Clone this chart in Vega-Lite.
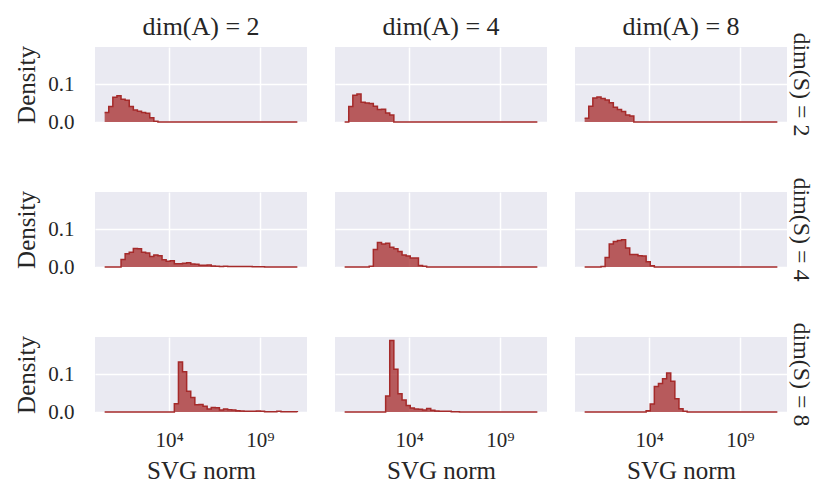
{
"$schema": "https://vega.github.io/schema/vega-lite/v6.json",
"padding": {"left": 14, "top": 14, "right": 2, "bottom": 2},
"background": "white",
"data": {"values": [
{"S":2,"A":2,"x":2.742,"d":0.0248},{"S":2,"A":2,"x":4.615,"d":0.0407},{"S":2,"A":2,"x":7.767,"d":0.0654},{"S":2,"A":2,"x":13.07,"d":0.069},{"S":2,"A":2,"x":22.0,"d":0.060},{"S":2,"A":2,"x":37.03,"d":0.0575},{"S":2,"A":2,"x":62.32,"d":0.0407},{"S":2,"A":2,"x":104.9,"d":0.0318},{"S":2,"A":2,"x":176.5,"d":0.0283},{"S":2,"A":2,"x":297.1,"d":0.0248},{"S":2,"A":2,"x":500,"d":0.023},{"S":2,"A":2,"x":841.6,"d":0.0115},{"S":2,"A":2,"x":1416,"d":0.002},{"S":2,"A":2,"x":2384,"d":0},{"S":2,"A":2,"x":116060000000,"d":0},
{"S":2,"A":4,"x":2.742,"d":0},{"S":2,"A":4,"x":4.615,"d":0.0407},{"S":2,"A":4,"x":7.767,"d":0.0707},{"S":2,"A":4,"x":13.07,"d":0.074},{"S":2,"A":4,"x":22.0,"d":0.052},{"S":2,"A":4,"x":37.03,"d":0.050},{"S":2,"A":4,"x":62.32,"d":0.0486},{"S":2,"A":4,"x":104.9,"d":0.0415},{"S":2,"A":4,"x":176.5,"d":0.0327},{"S":2,"A":4,"x":297.1,"d":0.0336},{"S":2,"A":4,"x":500,"d":0.0239},{"S":2,"A":4,"x":841.6,"d":0.0186},{"S":2,"A":4,"x":1416,"d":0},{"S":2,"A":4,"x":116060000000,"d":0},
{"S":2,"A":8,"x":2.742,"d":0.0097},{"S":2,"A":8,"x":4.615,"d":0.0415},{"S":2,"A":8,"x":7.767,"d":0.0636},{"S":2,"A":8,"x":13.07,"d":0.066},{"S":2,"A":8,"x":22.0,"d":0.062},{"S":2,"A":8,"x":37.03,"d":0.058},{"S":2,"A":8,"x":62.32,"d":0.051},{"S":2,"A":8,"x":104.9,"d":0.039},{"S":2,"A":8,"x":176.5,"d":0.033},{"S":2,"A":8,"x":297.1,"d":0.028},{"S":2,"A":8,"x":500,"d":0.0186},{"S":2,"A":8,"x":841.6,"d":0.016},{"S":2,"A":8,"x":1416,"d":0},{"S":2,"A":8,"x":116060000000,"d":0},
{"S":4,"A":2,"x":2.742,"d":0},{"S":4,"A":2,"x":22.0,"d":0.020},{"S":4,"A":2,"x":37.03,"d":0.035},{"S":4,"A":2,"x":62.32,"d":0.039},{"S":4,"A":2,"x":104.9,"d":0.049},{"S":4,"A":2,"x":176.5,"d":0.048},{"S":4,"A":2,"x":297.1,"d":0.039},{"S":4,"A":2,"x":500,"d":0.037},{"S":4,"A":2,"x":841.6,"d":0.028},{"S":4,"A":2,"x":1416,"d":0.032},{"S":4,"A":2,"x":2384,"d":0.030},{"S":4,"A":2,"x":4012,"d":0.019},{"S":4,"A":2,"x":6753,"d":0.015},{"S":4,"A":2,"x":11366,"d":0.0165},{"S":4,"A":2,"x":19130,"d":0.0087},{"S":4,"A":2,"x":32197,"d":0.0087},{"S":4,"A":2,"x":54189,"d":0.0096},{"S":4,"A":2,"x":91201,"d":0.011},{"S":4,"A":2,"x":153497,"d":0.0078},{"S":4,"A":2,"x":258345,"d":0.007},{"S":4,"A":2,"x":434812,"d":0.0043},{"S":4,"A":2,"x":731824,"d":0.0043},{"S":4,"A":2,"x":1231700,"d":0.005},{"S":4,"A":2,"x":2073100,"d":0.0026},{"S":4,"A":2,"x":3489100,"d":0.0017},{"S":4,"A":2,"x":5872400,"d":0.001},{"S":4,"A":2,"x":9883300,"d":0.0017},{"S":4,"A":2,"x":16634000,"d":0.001},{"S":4,"A":2,"x":27997000,"d":0.001},{"S":4,"A":2,"x":47120000,"d":0.001},{"S":4,"A":2,"x":79306000,"d":0.001},{"S":4,"A":2,"x":133480000,"d":0.001},{"S":4,"A":2,"x":224650000,"d":0.001},{"S":4,"A":2,"x":378100000,"d":0.0008},{"S":4,"A":2,"x":636360000,"d":0.0008},{"S":4,"A":2,"x":1071000000,"d":0.0008},{"S":4,"A":2,"x":1802600000,"d":0.0003},{"S":4,"A":2,"x":3033900000,"d":0.0003},{"S":4,"A":2,"x":5106200000,"d":0},{"S":4,"A":2,"x":116060000000,"d":0},
{"S":4,"A":4,"x":2.742,"d":0},{"S":4,"A":4,"x":62.32,"d":0.002},{"S":4,"A":4,"x":104.9,"d":0.046},{"S":4,"A":4,"x":176.5,"d":0.065},{"S":4,"A":4,"x":297.1,"d":0.061},{"S":4,"A":4,"x":500,"d":0.063},{"S":4,"A":4,"x":841.6,"d":0.052},{"S":4,"A":4,"x":1416,"d":0.048},{"S":4,"A":4,"x":2384,"d":0.041},{"S":4,"A":4,"x":4012,"d":0.032},{"S":4,"A":4,"x":6753,"d":0.029},{"S":4,"A":4,"x":11366,"d":0.0235},{"S":4,"A":4,"x":19130,"d":0.0235},{"S":4,"A":4,"x":32197,"d":0.004},{"S":4,"A":4,"x":54189,"d":0.0017},{"S":4,"A":4,"x":91201,"d":0},{"S":4,"A":4,"x":116060000000,"d":0},
{"S":4,"A":8,"x":2.742,"d":0},{"S":4,"A":8,"x":22.0,"d":0.001},{"S":4,"A":8,"x":37.03,"d":0.025},{"S":4,"A":8,"x":62.32,"d":0.061},{"S":4,"A":8,"x":104.9,"d":0.067},{"S":4,"A":8,"x":176.5,"d":0.070},{"S":4,"A":8,"x":297.1,"d":0.072},{"S":4,"A":8,"x":500,"d":0.050},{"S":4,"A":8,"x":841.6,"d":0.033},{"S":4,"A":8,"x":1416,"d":0.033},{"S":4,"A":8,"x":2384,"d":0.030},{"S":4,"A":8,"x":4012,"d":0.029},{"S":4,"A":8,"x":6753,"d":0.014},{"S":4,"A":8,"x":11366,"d":0.0035},{"S":4,"A":8,"x":19130,"d":0},{"S":4,"A":8,"x":116060000000,"d":0},
{"S":8,"A":2,"x":2.742,"d":0},{"S":8,"A":2,"x":19130,"d":0.022},{"S":8,"A":2,"x":32197,"d":0.132},{"S":8,"A":2,"x":54189,"d":0.106},{"S":8,"A":2,"x":91201,"d":0.055},{"S":8,"A":2,"x":153497,"d":0.038},{"S":8,"A":2,"x":258345,"d":0.019},{"S":8,"A":2,"x":434812,"d":0.020},{"S":8,"A":2,"x":731824,"d":0.015},{"S":8,"A":2,"x":1231700,"d":0.008},{"S":8,"A":2,"x":2073100,"d":0.012},{"S":8,"A":2,"x":3489100,"d":0.011},{"S":8,"A":2,"x":5872400,"d":0.005},{"S":8,"A":2,"x":9883300,"d":0.008},{"S":8,"A":2,"x":16634000,"d":0.006},{"S":8,"A":2,"x":27997000,"d":0.005},{"S":8,"A":2,"x":47120000,"d":0.0035},{"S":8,"A":2,"x":79306000,"d":0.0026},{"S":8,"A":2,"x":133480000,"d":0.0018},{"S":8,"A":2,"x":224650000,"d":0.0018},{"S":8,"A":2,"x":378100000,"d":0.0018},{"S":8,"A":2,"x":636360000,"d":0.0026},{"S":8,"A":2,"x":1071000000,"d":0.0018},{"S":8,"A":2,"x":1802600000,"d":0.0009},{"S":8,"A":2,"x":3033900000,"d":0.0009},{"S":8,"A":2,"x":5106200000,"d":0.0009},{"S":8,"A":2,"x":8594000000,"d":0.0018},{"S":8,"A":2,"x":14464000000,"d":0.0009},{"S":8,"A":2,"x":24344000000,"d":0.0009},{"S":8,"A":2,"x":40973000000,"d":0.0009},{"S":8,"A":2,"x":68960000000,"d":0.0009},{"S":8,"A":2,"x":116060000000,"d":0},
{"S":8,"A":4,"x":2.742,"d":0},{"S":8,"A":4,"x":500,"d":0.042},{"S":8,"A":4,"x":841.6,"d":0.189},{"S":8,"A":4,"x":1416,"d":0.113},{"S":8,"A":4,"x":2384,"d":0.048},{"S":8,"A":4,"x":4012,"d":0.032},{"S":8,"A":4,"x":6753,"d":0.017},{"S":8,"A":4,"x":11366,"d":0.0105},{"S":8,"A":4,"x":19130,"d":0.008},{"S":8,"A":4,"x":32197,"d":0.007},{"S":8,"A":4,"x":54189,"d":0.005},{"S":8,"A":4,"x":91201,"d":0.009},{"S":8,"A":4,"x":153497,"d":0.0044},{"S":8,"A":4,"x":258345,"d":0.0026},{"S":8,"A":4,"x":434812,"d":0.0018},{"S":8,"A":4,"x":731824,"d":0.0018},{"S":8,"A":4,"x":1231700,"d":0.0018},{"S":8,"A":4,"x":2073100,"d":0.0009},{"S":8,"A":4,"x":3489100,"d":0.0009},{"S":8,"A":4,"x":5872400,"d":0},{"S":8,"A":4,"x":116060000000,"d":0},
{"S":8,"A":8,"x":2.742,"d":0},{"S":8,"A":8,"x":6753,"d":0.0035},{"S":8,"A":8,"x":11366,"d":0.021},{"S":8,"A":8,"x":19130,"d":0.0675},{"S":8,"A":8,"x":32197,"d":0.075},{"S":8,"A":8,"x":54189,"d":0.088},{"S":8,"A":8,"x":91201,"d":0.103},{"S":8,"A":8,"x":153497,"d":0.081},{"S":8,"A":8,"x":258345,"d":0.035},{"S":8,"A":8,"x":434812,"d":0.0088},{"S":8,"A":8,"x":731824,"d":0.002},{"S":8,"A":8,"x":1231700,"d":0},{"S":8,"A":8,"x":116060000000,"d":0}
]},
"facet": {
  "row": {"field": "S", "type": "ordinal", "title": null,
    "header": {"labelOrient": "right", "labelAngle": 90, "labelExpr": "'dim(S) = ' + datum.value", "labelPadding": -10, "labelBaseline": "middle", "labelFontSize": 24}},
  "column": {"field": "A", "type": "ordinal", "title": null,
    "header": {"labelExpr": "'dim(A) = ' + datum.value", "labelPadding": 7, "labelFontSize": 26}}
},
"spacing": {"row": 67, "column": 28},
"spec": {
  "width": 212,
  "height": 75,
  "encoding": {
    "x": {"field": "x", "type": "quantitative",
      "scale": {"type": "log", "domain": [0.807, 394500000000], "nice": false},
      "axis": {"values": [10000, 1000000000], "labelExpr": "datum.value == 10000 ? '10⁴' : '10⁹'", "title": "SVG norm", "labelPadding": 14, "titlePadding": 8}},
    "y": {"field": "d", "type": "quantitative",
      "scale": {"domain": [0, 0.198], "nice": false},
      "axis": {"values": [0, 0.1], "format": ".1f", "title": "Density", "labelPadding": 21, "titlePadding": 8}}
  },
  "layer": [
    {"mark": {"type": "area", "interpolate": "step-after", "color": "#A52A2A", "fillOpacity": 0.75}},
    {"mark": {"type": "line", "interpolate": "step-after", "color": "#A52A2A", "strokeWidth": 1.5}}
  ]
},
"config": {
  "view": {"fill": "#EAEAF2", "stroke": null},
  "axis": {"domain": false, "ticks": false, "gridColor": "white", "gridWidth": 1.5, "gridOpacity": 1,
    "labelFont": "Liberation Serif", "titleFont": "Liberation Serif", "labelFontSize": 21, "titleFontSize": 25,
    "labelColor": "#262626", "titleColor": "#262626", "titleFontWeight": "normal"},
  "header": {"labelFont": "Liberation Serif", "labelFontSize": 24, "labelColor": "#262626"}
}
}
